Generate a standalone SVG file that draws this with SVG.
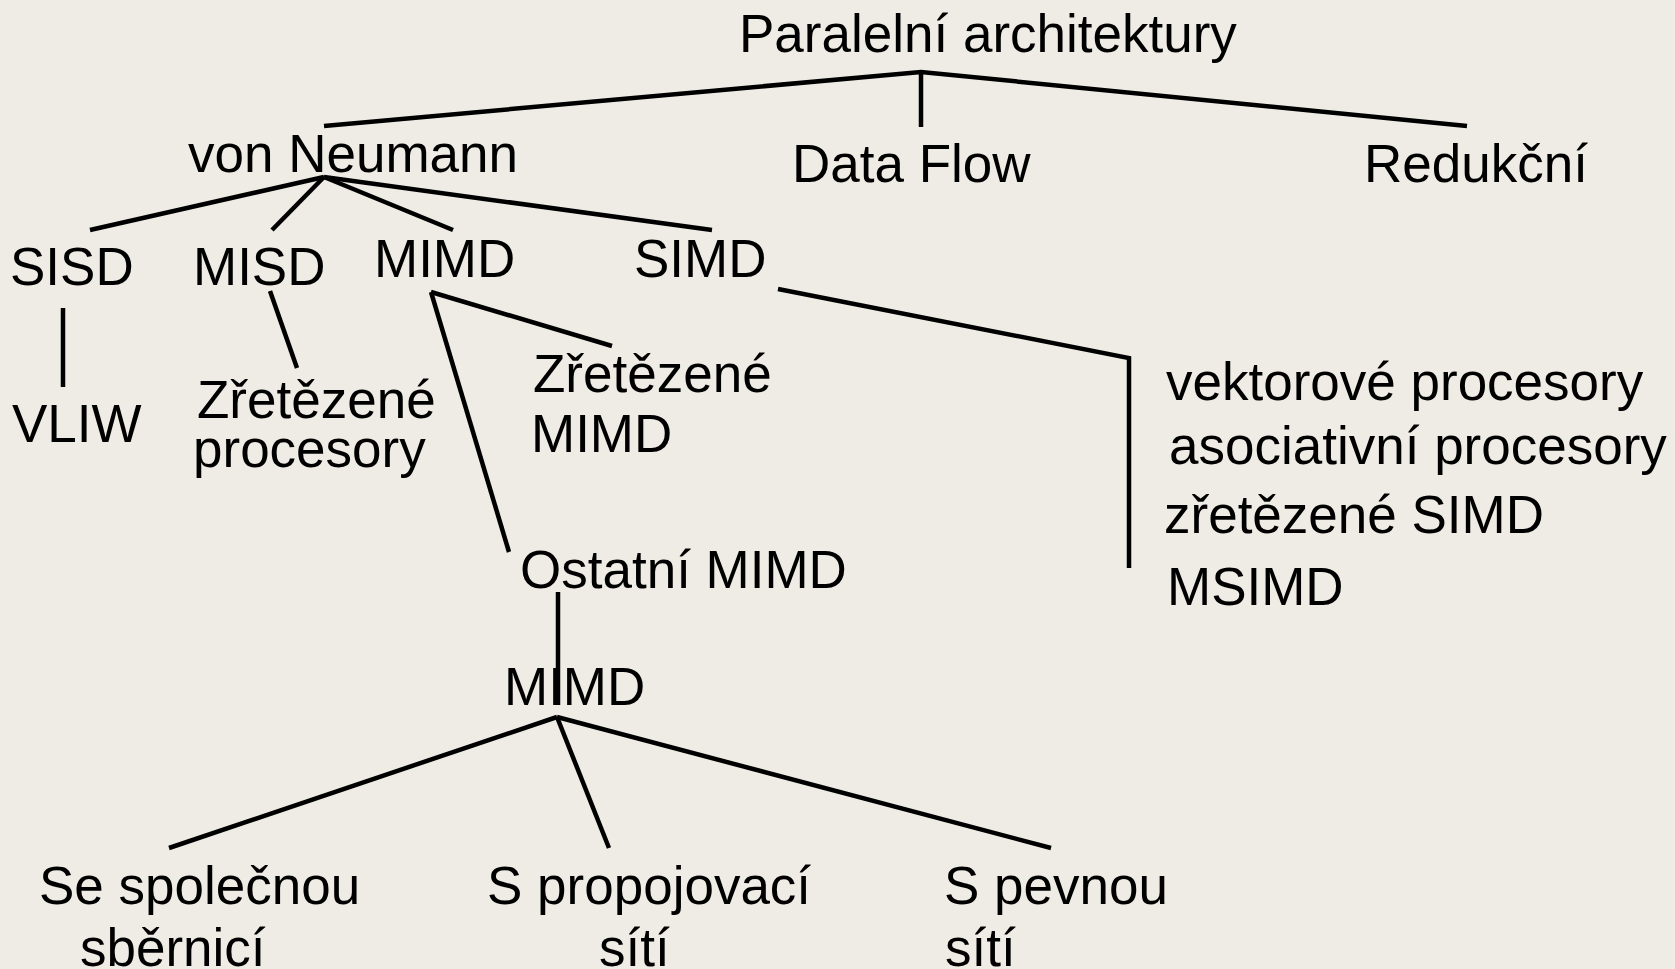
<svg xmlns="http://www.w3.org/2000/svg" width="1675" height="969" viewBox="0 0 1675 969">
  <style>
    text { font-family: "Liberation Sans", Arial, sans-serif; font-size: 53px; fill: #000; }
    .edge { fill: none; stroke: #000; stroke-width: 4.5; stroke-linejoin: miter; }
  </style>
  <rect width="1675" height="969" fill="#EEECE4"/>

  <!-- connectors -->
  <g id="connectors">
    <polyline class="edge" points="324,126 921,72 1467,126"/>
    <line class="edge" x1="921" y1="72" x2="921" y2="127"/>
    <line class="edge" x1="324" y1="177" x2="90" y2="230"/>
    <line class="edge" x1="324" y1="177" x2="272" y2="230"/>
    <line class="edge" x1="324" y1="177" x2="453" y2="230"/>
    <line class="edge" x1="324" y1="177" x2="712" y2="230"/>
    <line class="edge" x1="63" y1="308" x2="63" y2="387"/>
    <line class="edge" x1="270" y1="291" x2="297" y2="368"/>
    <line class="edge" x1="431" y1="292" x2="612" y2="346"/>
    <line class="edge" x1="431" y1="292" x2="509" y2="552"/>
    <polyline class="edge" points="778,289 1129,358 1129,568"/>
    <line class="edge" x1="558" y1="592" x2="558" y2="705"/>
    <line class="edge" x1="557" y1="717" x2="169" y2="848"/>
    <line class="edge" x1="557" y1="717" x2="609" y2="848"/>
    <line class="edge" x1="557" y1="717" x2="1051" y2="848"/>
  </g>

  <g id="root"><text x="739" y="52">Paralelní architektury</text></g>
  <g id="von-neumann"><text x="188" y="172">von Neumann</text></g>
  <g id="data-flow"><text x="792" y="182">Data Flow</text></g>
  <g id="redukcni"><text x="1364" y="182">Redukční</text></g>

  <g id="sisd"><text x="10" y="285">SISD</text></g>
  <g id="misd"><text x="193" y="285">MISD</text></g>
  <g id="mimd"><text x="374" y="277">MIMD</text></g>
  <g id="simd"><text x="634" y="277">SIMD</text></g>

  <g id="vliw"><text x="12" y="442">VLIW</text></g>
  <g id="zretezene-procesory">
    <text x="197" y="418">Zřetězené</text>
    <text x="193" y="467">procesory</text>
  </g>
  <g id="zretezene-mimd">
    <text x="533" y="392">Zřetězené</text>
    <text x="531" y="452">MIMD</text>
  </g>
  <g id="ostatni-mimd"><text x="520" y="588">Ostatní MIMD</text></g>

  <g id="simd-list">
    <text x="1166" y="400">vektorové procesory</text>
    <text x="1169" y="464">asociativní procesory</text>
    <text x="1164" y="533">zřetězené SIMD</text>
    <text x="1167" y="605">MSIMD</text>
  </g>

  <g id="mimd-2"><text x="504" y="705">MIMD</text></g>

  <g id="spolecna-sbernice">
    <text x="39" y="904">Se společnou</text>
    <text x="80" y="966">sběrnicí</text>
  </g>
  <g id="propojovaci-sit">
    <text x="487" y="904">S propojovací</text>
    <text x="599" y="966">sítí</text>
  </g>
  <g id="pevna-sit">
    <text x="944" y="904">S pevnou</text>
    <text x="945" y="966">sítí</text>
  </g>
</svg>
